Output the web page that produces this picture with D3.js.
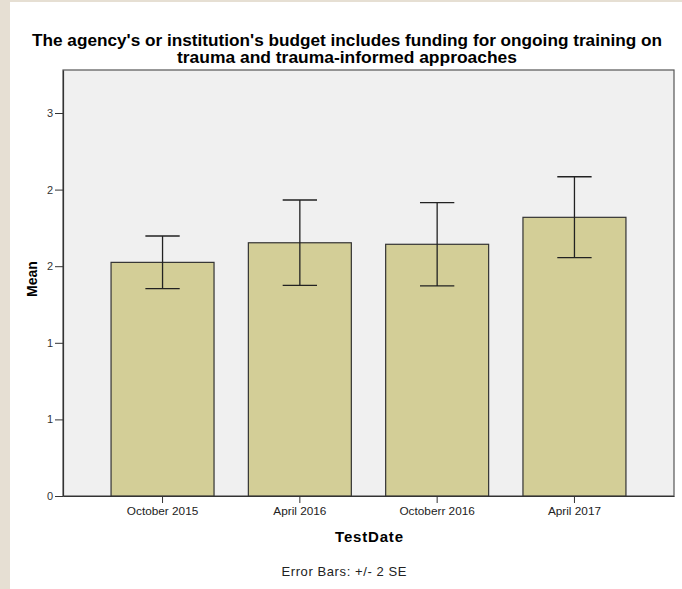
<!DOCTYPE html>
<html><head><meta charset="utf-8">
<script src="https://cdn.jsdelivr.net/npm/d3@7"></script>
<style>html,body{margin:0;padding:0;background:#fff;}svg{display:block;}</style>
</head><body>
<script>
const categories = ["October 2015", "April 2016", "Octoberr 2016", "April 2017"];
const means = [1.525, 1.653, 1.643, 1.819];
const errLow = [1.353, 1.375, 1.371, 1.556];
const errHigh = [1.697, 1.932, 1.915, 2.084];
const yTicks = [0, 0.5, 1.0, 1.5, 2.0, 2.5];
const yTickLabels = ["0", "1", "1", "2", "2", "3"];
const titleLines = ["The agency's or institution's budget includes funding for ongoing training on", "trauma and trauma-informed approaches"];

const W = 682, H = 589;
const FONT = "Liberation Sans, Arial, sans-serif";
const svg = d3.select("body").append("svg").attr("width", W).attr("height", H);
svg.append("rect").attr("width", W).attr("height", H).attr("fill", "#fff");
svg.append("rect").attr("x", 0).attr("y", 0).attr("width", 10).attr("height", H).attr("fill", "#e6dfd3");
svg.append("rect").attr("x", 0).attr("y", 0).attr("width", W).attr("height", 2).attr("fill", "#e6dfd3");

const L = 63, R = 674, T = 70, B = 496;
const x = d3.scaleBand().domain(categories).range([L, R]).paddingInner(0.25).paddingOuter(0.35);
const y = d3.scaleLinear().domain([0, (B - T) / 153.2]).range([B, T]);

svg.append("rect").attr("x", L).attr("y", T).attr("width", R - L).attr("height", B - T)
  .attr("fill", "#f0f0f0").attr("stroke", "#555").attr("stroke-width", 1.2);

svg.selectAll("rect.bar").data(categories).enter().append("rect").attr("class", "bar")
  .attr("x", d => x(d)).attr("width", x.bandwidth())
  .attr("y", (d, i) => y(means[i])).attr("height", (d, i) => B - y(means[i]))
  .attr("fill", "#d3ce97").attr("stroke", "#333").attr("stroke-width", 1.2);

const cap = x.bandwidth() / 3;
const eg = svg.append("g").attr("stroke", "#222").attr("stroke-width", 1.3);
categories.forEach((c, i) => {
  const cx = x(c) + x.bandwidth() / 2;
  eg.append("line").attr("x1", cx).attr("x2", cx).attr("y1", y(errLow[i])).attr("y2", y(errHigh[i]));
  eg.append("line").attr("x1", cx - cap / 2).attr("x2", cx + cap / 2).attr("y1", y(errLow[i])).attr("y2", y(errLow[i]));
  eg.append("line").attr("x1", cx - cap / 2).attr("x2", cx + cap / 2).attr("y1", y(errHigh[i])).attr("y2", y(errHigh[i]));
});

const yAxis = d3.axisLeft(y).tickValues(yTicks).tickFormat((d, i) => yTickLabels[i]).tickSizeInner(8).tickSizeOuter(0).tickPadding(2);
const ya = svg.append("g").attr("transform", `translate(${L},0)`).call(yAxis);
ya.select(".domain").attr("stroke", "#333").attr("stroke-width", 1.2);
ya.selectAll(".tick line").attr("stroke", "#333");
ya.selectAll("text").attr("font-family", FONT).attr("font-size", 11).attr("fill", "#333");

const xAxis = d3.axisBottom(x).tickSizeInner(7).tickSizeOuter(0).tickPadding(4);
const xa = svg.append("g").attr("transform", `translate(0,${B})`).call(xAxis);
xa.select(".domain").attr("stroke", "#333").attr("stroke-width", 1.2);
xa.selectAll(".tick line").attr("stroke", "#333");
xa.selectAll("text").attr("font-family", FONT).attr("font-size", 11.8).attr("fill", "#222");

const titleWidths = [630, 340];
const tt = svg.append("text").attr("text-anchor", "middle").attr("font-family", FONT)
  .attr("font-weight", "bold").attr("font-size", 16.5).attr("fill", "#000");
titleLines.forEach((l, i) => tt.append("tspan").attr("x", 347).attr("y", 46 + i * 17)
  .attr("textLength", titleWidths[i]).attr("lengthAdjust", "spacingAndGlyphs").text(l));

svg.append("text").attr("x", 369).attr("y", 542).attr("text-anchor", "middle")
  .attr("font-family", FONT).attr("font-weight", "bold").attr("font-size", 15).attr("fill", "#000")
  .attr("textLength", 68).attr("lengthAdjust", "spacing").text("TestDate");
svg.append("text").attr("transform", "translate(37,279) rotate(-90)").attr("text-anchor", "middle")
  .attr("font-family", FONT).attr("font-weight", "bold").attr("font-size", 14).attr("fill", "#000").text("Mean");
svg.append("text").attr("x", 344).attr("y", 576).attr("text-anchor", "middle")
  .attr("font-family", FONT).attr("font-size", 13).attr("fill", "#222")
  .attr("textLength", 125).attr("lengthAdjust", "spacing").text("Error Bars: +/- 2 SE");
</script>
</body></html>
